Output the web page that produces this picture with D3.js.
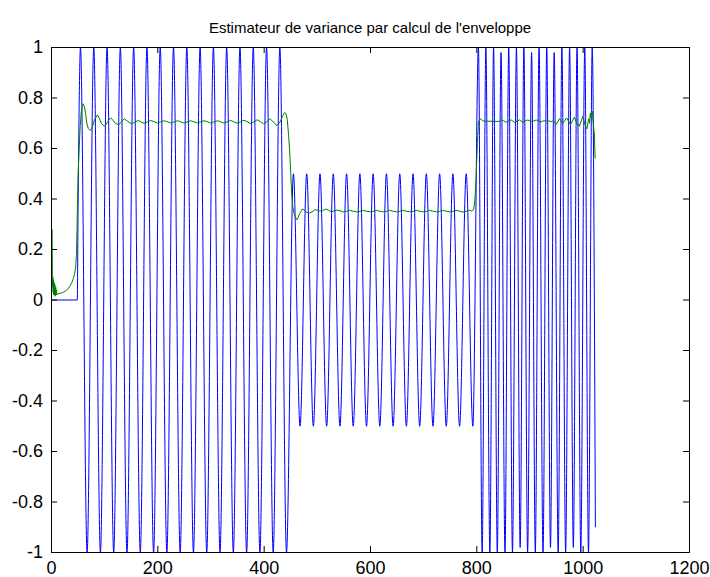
<!DOCTYPE html>
<html>
<head>
<meta charset="utf-8">
<script src="https://cdn.jsdelivr.net/npm/d3@7"></script>
<style>
  body { margin: 0; background: #fff; }
  svg { display: block; }
  text { font-family: "Liberation Sans", Arial, sans-serif; fill: #000; }
</style>
</head>
<body>
<svg id="chart" width="710" height="577"></svg>
<script>
// Title and axis ticks
const title = "Estimateur de variance par calcul de l'enveloppe";
const xTicks = [0, 200, 400, 600, 800, 1000, 1200];
const xTickLabels = ["0", "200", "400", "600", "800", "1000", "1200"];
const yTicks = [-1, -0.8, -0.6, -0.4, -0.2, 0, 0.2, 0.4, 0.6, 0.8, 1];
const yTickLabels = ["-1", "-0.8", "-0.6", "-0.4", "-0.2", "0", "0.2", "0.4", "0.6", "0.8", "1"];

// Input signal (blue): silent start, then successive peaks and troughs
const signalN = [
  0, 48.5, 50,
  54.5, 67, 79.5, 92, 104.5, 117, 129.5, 142, 154.5, 167, 179.5, 192,
  204.5, 217, 229.5, 242, 254.5, 267, 279.5, 292, 304.5, 317, 329.5, 342,
  354.5, 367, 379.5, 392, 404.5, 417, 429.5, 442,
  455, 467.5, 480, 492.5, 505, 517.5, 530, 542.5, 555, 567.5, 580, 592.5,
  605, 617.5, 630, 642.5, 655, 667.5, 680, 692.5, 705, 717.5, 730, 742.5,
  755, 767.5, 780, 792.5,
  803, 810, 817, 824.5, 831.5, 838.5, 845.5, 853, 860, 867, 874.5, 881.5,
  888.5, 895.5, 903, 910, 917, 924.5, 931.5, 938.5, 945.5, 953, 960, 967,
  974.5, 981.5, 988.5, 995.5, 1003, 1010, 1017, 1023
];
const signalV = [
  0, 0, 0.37,
  1, -1, 1, -1, 1, -1, 1, -1, 1, -1, 1, -1,
  1, -1, 1, -1, 1, -1, 1, -1, 1, -1, 1, -1,
  1, -1, 1, -1, 1, -1, 1, -1,
  0.5, -0.5, 0.5, -0.5, 0.5, -0.5, 0.5, -0.5, 0.5, -0.5, 0.5, -0.5,
  0.5, -0.5, 0.5, -0.5, 0.5, -0.5, 0.5, -0.5, 0.5, -0.5, 0.5, -0.5,
  0.5, -0.5, 0.5, -0.5,
  1, -1, 1, -1, 1, -1, 0.98, -1, 1, -1, 1, -0.98,
  1, -1, 0.98, -1, 1, -1, 1, -0.98, 0.98, -1, 1, -1,
  1, -0.98, 1, -1, 1, -1, 1, -0.9
];

// Envelope-based variance estimate (green)
const estimateN = [
  1.2, 1.6, 2, 2.5, 3, 3.5, 4, 5, 5.5, 6.5, 7, 8, 8.5, 9.5, 10,
  12, 16, 21, 26, 31, 35, 38, 41, 43.5, 45.5, 47, 48, 49, 50, 52, 54, 56, 58,
  59.6, 62, 64, 66, 69, 73, 77, 81, 86.5, 90, 94, 99.7, 105, 111, 115, 120,
  126, 131, 137, 143, 150, 156, 163, 168, 174, 180, 187, 193, 199, 205, 212,
  218, 224, 230, 237, 243, 249, 255, 262, 268, 274, 280, 287, 293, 299, 305,
  312, 318, 324, 330, 337, 343, 349, 355, 362, 368, 374, 380, 387, 393, 399,
  405, 411, 417, 424, 430, 435, 438.5, 441, 443.5, 446, 448, 450, 452, 454,
  457, 461.5, 464, 467, 472, 475, 479, 485, 490, 495, 500, 505, 510, 516,
  521, 526, 531, 537, 543, 549, 555, 561, 567, 574, 580, 586, 592, 599, 605,
  611, 617, 624, 630, 636, 642, 649, 655, 661, 667, 674, 680, 686, 692, 699,
  705, 711, 717, 724, 730, 736, 742, 749, 755, 761, 767, 774, 780, 786, 790,
  794, 796.5, 798.7, 801, 803, 806, 810, 814, 820, 830, 838, 842.6, 846, 850,
  855, 860, 864.6, 870.8, 876, 880.2, 886.5, 891, 895.9, 902.2, 907, 911.6,
  916, 921, 926, 930.4, 935, 939.8, 944, 949.2, 955.5, 961.7, 969, 976,
  983.6, 988, 990, 991.7, 993, 999.3, 1004, 1007, 1010.5, 1012, 1013.5, 1015,
  1017, 1019.4, 1021, 1022.5
];
const estimateV = [
  0.28, 0.1, 0.05, 0.09, 0.03, 0.08, 0.02, 0.07, 0.02, 0.06, 0.015, 0.05, 0.02, 0.04, 0.02,
  0.025, 0.026, 0.03, 0.035, 0.044, 0.056, 0.068, 0.085, 0.105, 0.13, 0.18, 0.28, 0.4, 0.49, 0.6, 0.69, 0.745, 0.77,
  0.777, 0.765, 0.74, 0.705, 0.68, 0.671, 0.685, 0.715, 0.733, 0.72, 0.698, 0.688, 0.703, 0.721, 0.714, 0.7,
  0.694, 0.704, 0.718, 0.708, 0.698, 0.704, 0.711, 0.706, 0.7, 0.705, 0.711, 0.706, 0.701, 0.705, 0.71,
  0.706, 0.701, 0.705, 0.71, 0.706, 0.701, 0.705, 0.71, 0.706, 0.701, 0.705, 0.71, 0.706, 0.701, 0.705,
  0.71, 0.706, 0.701, 0.705, 0.711, 0.706, 0.7, 0.705, 0.712, 0.706, 0.699, 0.705, 0.714, 0.706, 0.698,
  0.706, 0.718, 0.705, 0.691, 0.705, 0.73, 0.742, 0.738, 0.715, 0.65, 0.59, 0.5, 0.41, 0.367,
  0.335, 0.318, 0.327, 0.343, 0.36, 0.358, 0.348, 0.344, 0.349, 0.357, 0.356, 0.352, 0.354, 0.36,
  0.356, 0.35, 0.352, 0.356, 0.353, 0.349, 0.351, 0.355, 0.352, 0.349, 0.351, 0.355, 0.352, 0.349, 0.351,
  0.355, 0.352, 0.349, 0.351, 0.355, 0.352, 0.349, 0.351, 0.355, 0.352, 0.349, 0.351, 0.355, 0.352, 0.349,
  0.351, 0.355, 0.352, 0.349, 0.351, 0.355, 0.352, 0.349, 0.351, 0.355, 0.352, 0.348, 0.351, 0.356, 0.352,
  0.358, 0.4, 0.486, 0.62, 0.705, 0.718, 0.712, 0.708, 0.708, 0.708, 0.707, 0.708, 0.713, 0.71,
  0.704, 0.709, 0.713, 0.704, 0.709, 0.713, 0.704, 0.709, 0.713, 0.706, 0.709, 0.713,
  0.708, 0.706, 0.71, 0.708, 0.71, 0.706, 0.71, 0.695, 0.718, 0.7, 0.721, 0.695,
  0.724, 0.7, 0.69, 0.695, 0.688, 0.727, 0.691, 0.678, 0.718, 0.7, 0.74, 0.72,
  0.748, 0.691, 0.658, 0.56
];

const svg = d3.select("#chart");
const plot = { left: 51, right: 689, top: 47, bottom: 552 };

const x = d3.scaleLinear().domain([0, 1200]).range([plot.left, plot.right]);
const y = d3.scaleLinear().domain([-1, 1]).range([plot.bottom, plot.top]);

svg.append("defs").append("clipPath").attr("id", "plot-area")
  .append("rect")
  .attr("x", plot.left).attr("y", plot.top)
  .attr("width", plot.right - plot.left + 1).attr("height", plot.bottom - plot.top + 1);

// Curves are offset half a pixel so horizontal runs land on whole pixel rows
const lines = svg.append("g")
  .attr("clip-path", "url(#plot-area)")
  .append("g")
  .attr("transform", "translate(0.5,0.5)");

const signal = signalN.map((n, i) => [n, signalV[i]]);
const estimate = estimateN.map((n, i) => [n, estimateV[i]]);

lines.append("path")
  .datum(signal)
  .attr("fill", "none")
  .attr("stroke", "#0000ff")
  .attr("stroke-width", 1)
  .attr("d", d3.line().x(d => x(d[0])).y(d => y(d[1])).curve(d3.curveMonotoneX));

lines.append("path")
  .datum(estimate)
  .attr("fill", "none")
  .attr("stroke", "#008000")
  .attr("stroke-width", 1)
  .attr("d", d3.line().x(d => x(d[0])).y(d => y(d[1])));

// Axes with inward ticks on all four sides (box style)
const tickLen = 6;
const xBottom = d3.axisBottom(x).tickValues(xTicks).tickSize(-tickLen).tickPadding(9)
  .tickFormat((d, i) => xTickLabels[i]);
const xTop = d3.axisTop(x).tickValues(xTicks).tickSize(-tickLen).tickFormat("");
const yLeft = d3.axisLeft(y).tickValues(yTicks).tickSize(-tickLen).tickPadding(8)
  .tickFormat((d, i) => yTickLabels[i]);
const yRight = d3.axisRight(y).tickValues(yTicks).tickSize(-tickLen).tickFormat("");

function styleAxis(g) {
  g.select(".domain").attr("stroke", "#000").attr("stroke-width", 1);
  g.selectAll(".tick line").attr("stroke", "#000");
  g.selectAll(".tick text").style("font-family", "'Liberation Sans', Arial, sans-serif")
    .style("font-size", "18px").attr("fill", "#000");
}

svg.append("g").attr("transform", `translate(0,${plot.bottom})`).call(xBottom).call(styleAxis);
svg.append("g").attr("transform", `translate(0,${plot.top})`).call(xTop).call(styleAxis);
svg.append("g").attr("transform", `translate(${plot.left},0)`).call(yLeft).call(styleAxis);
svg.append("g").attr("transform", `translate(${plot.right},0)`).call(yRight).call(styleAxis);

svg.append("text")
  .attr("x", (plot.left + plot.right) / 2)
  .attr("y", 33)
  .attr("text-anchor", "middle")
  .style("font-size", "15px")
  .text(title);
</script>
</body>
</html>
